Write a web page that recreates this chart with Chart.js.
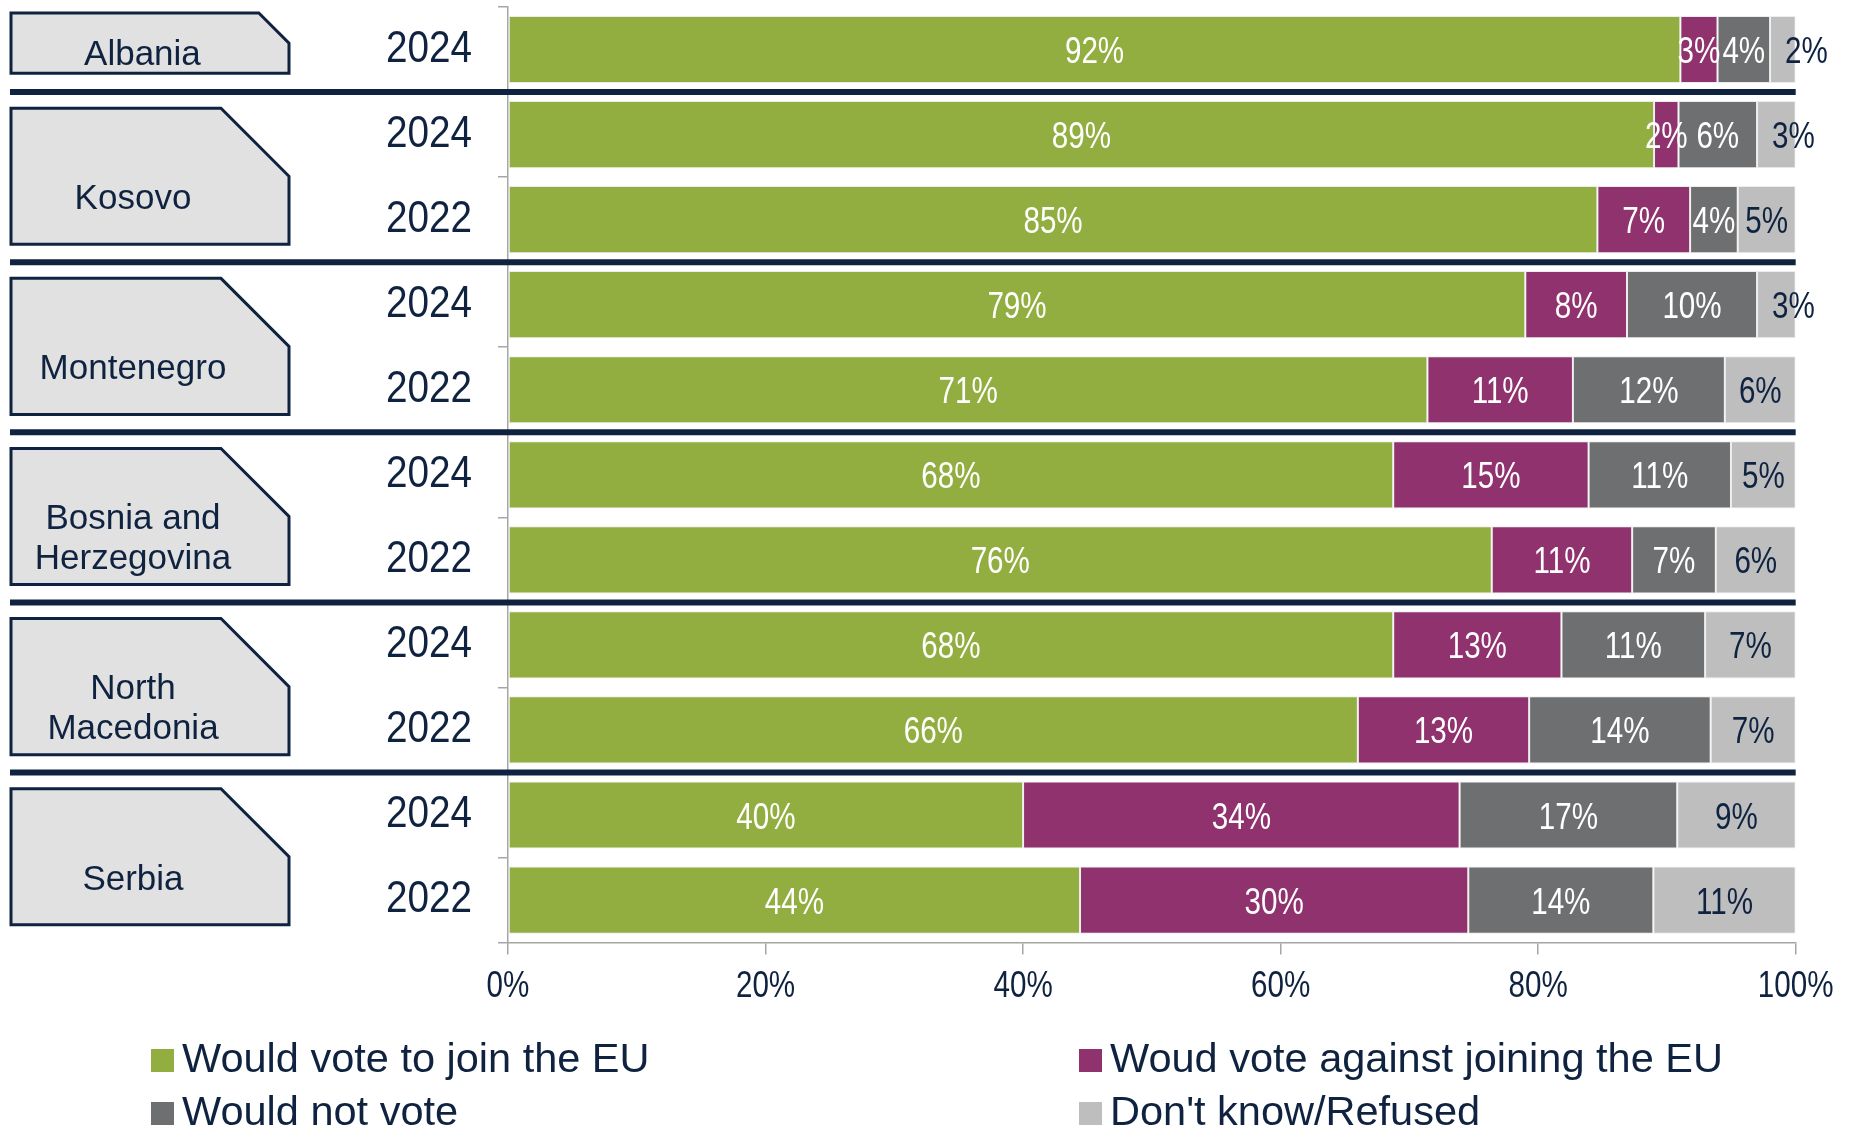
<!DOCTYPE html>
<html>
<head>
<meta charset="utf-8">
<script src="https://cdn.jsdelivr.net/npm/chart.js@4.4.1/dist/chart.umd.min.js"></script>
<style>
  html, body { margin: 0; padding: 0; background: #ffffff; }
  #wrap { width: 1853px; height: 1132px; position: relative; }
</style>
</head>
<body>
<div id="wrap"><canvas id="c"></canvas></div>
<script>
// ---- Data ----
const countries = ['Albania', 'Kosovo', 'Montenegro', 'Bosnia and\nHerzegovina', 'North\nMacedonia', 'Serbia'];
const yearsPerCountry = [['2024'], ['2024', '2022'], ['2024', '2022'], ['2024', '2022'], ['2024', '2022'], ['2024', '2022']];
const seriesNames = ['Would vote to join the EU', 'Woud vote against joining the EU', 'Would not vote', "Don't know/Refused"];
const joinEU    = [91.5, 89.0, 84.6, 79.0, 71.4, 68.4, 76.4, 68.4, 66.0, 40.0, 44.2];
const againstEU = [ 2.9,  1.9,  7.2,  7.9, 11.3, 15.1, 10.9, 13.0, 13.3, 33.9, 30.0];
const notVote   = [ 4.1,  6.1,  3.7, 10.1, 11.8, 11.0,  6.5, 11.1, 14.1, 16.9, 14.3];
const dontKnow  = [ 2.0,  3.0,  4.5,  3.0,  5.5,  5.0,  6.2,  7.0,  6.6,  9.2, 11.0];
const xTickValues = [0, 20, 40, 60, 80, 100];

// ---- Styling ----
const NAVY = '#0F2341';
const colors = ['#92AE40', '#8F326E', '#6E6F71', '#BEBEBE'];
const FONT = "'Liberation Sans', Arial, sans-serif";

const years = yearsPerCountry.flat();
const allSeries = [joinEU, againstEU, notVote, dontKnow];
const totals = years.map((_, i) => allSeries.reduce((s, arr) => s + arr[i], 0));
const shares = allSeries.map(arr => arr.map((v, i) => v / totals[i] * 100));

const groupStarts = [];
{ let idx = 0; yearsPerCountry.forEach(g => { groupStarts.push(idx); idx += g.length; }); }

function boundaryPixel(yScale, i) {
  const n = years.length;
  if (i <= 0) return yScale.top;
  if (i >= n) return yScale.bottom;
  return (yScale.getPixelForValue(i - 1) + yScale.getPixelForValue(i)) / 2;
}

// draw text narrowed horizontally around its anchor point (emulates the condensed face)
function withNarrowText(ctx, sx, fn) {
  const orig = ctx.fillText;
  ctx.fillText = function (t, x, y, mw) {
    this.save();
    this.translate(x, y);
    this.scale(sx, 1);
    orig.call(this, t, 0, 0);
    this.restore();
  };
  try { fn(); } finally { ctx.fillText = orig; }
}
function narrowLabels(sx) {
  return function (scale) {
    if (scale._narrowed) return;
    scale._narrowed = true;
    const origDraw = scale.drawLabels;
    scale.drawLabels = function (area) {
      withNarrowText(this.ctx, sx, () => origDraw.call(this, area));
    };
  };
}

const barLabels = {
  id: 'barLabels',
  afterDatasetsDraw(chart) {
    const ctx = chart.ctx;
    const SX = 0.8;
    ctx.save();
    ctx.font = '37px ' + FONT;
    ctx.textAlign = 'center';
    ctx.textBaseline = 'alphabetic';
    chart.data.datasets.forEach((ds, k) => {
      const meta = chart.getDatasetMeta(k);
      meta.data.forEach((el, i) => {
        const p = el.getProps(['x', 'base', 'y'], true);
        const start = Math.min(p.x, p.base), end = Math.max(p.x, p.base);
        const txt = Math.round(allSeries[k][i]) + '%';
        const w = ctx.measureText(txt).width * SX;
        let cx = (start + end) / 2;
        if (k === 3 && w > end - start) cx = start + w / 2 + 15;
        ctx.fillStyle = k === 3 ? NAVY : '#FFFFFF';
        withNarrowText(ctx, SX, () => ctx.fillText(txt, cx, p.y + 13.5));
      });
    });
    ctx.restore();
  }
};

const decorations = {
  id: 'decorations',
  afterDraw(chart) {
    const ctx = chart.ctx;
    const ys = chart.scales.y;
    const area = chart.chartArea;
    ctx.save();
    // separators between countries
    ctx.strokeStyle = NAVY;
    ctx.lineWidth = 6;
    groupStarts.slice(1).forEach(gs => {
      const y = boundaryPixel(ys, gs);
      ctx.beginPath();
      ctx.moveTo(10, y);
      ctx.lineTo(area.right, y);
      ctx.stroke();
    });
    // country boxes
    const pitch = ys.getPixelForValue(1) - ys.getPixelForValue(0);
    countries.forEach((name, g) => {
      const n = yearsPerCountry[g].length;
      const top = boundaryPixel(ys, groupStarts[g]);
      const bottom = boundaryPixel(ys, groupStarts[g] + n);
      const y0 = top + (n > 1 ? 0.19 : 0.07) * pitch;
      const y1 = bottom - (n > 1 ? 0.21 : 0.22) * pitch;
      const x0 = 11, x1 = 289;
      const c = 0.5 * (y1 - y0);
      ctx.beginPath();
      ctx.moveTo(x0, y0);
      ctx.lineTo(x1 - c, y0);
      ctx.lineTo(x1, y0 + c);
      ctx.lineTo(x1, y1);
      ctx.lineTo(x0, y1);
      ctx.closePath();
      ctx.fillStyle = '#E1E1E1';
      ctx.fill();
      ctx.lineWidth = 3;
      ctx.strokeStyle = NAVY;
      ctx.stroke();
      const lines = name.split('\n');
      ctx.font = '35px ' + FONT;
      ctx.fillStyle = NAVY;
      ctx.textAlign = 'center';
      ctx.textBaseline = 'alphabetic';
      const cx = x0 + (x1 - x0 - c / 2) / 2;
      const cy = y0 + 0.65 * (y1 - y0);
      const lh = 40;
      lines.forEach((ln, j) => {
        const ly = cy + (j - (lines.length - 1) / 2) * lh;
        ctx.fillText(ln, cx, ly + 12.5);
      });
    });
    // legend (2 x 2 grid)
    const colX = [151, 1079];
    const rowBase = [1072, 1125];
    ctx.font = '41.5px ' + FONT;
    ctx.textAlign = 'left';
    ctx.textBaseline = 'alphabetic';
    chart.data.datasets.forEach((ds, k) => {
      const bx = colX[k % 2], by = rowBase[Math.floor(k / 2)];
      ctx.fillStyle = ds.backgroundColor;
      ctx.fillRect(bx, by - 23, 23, 23);
      ctx.fillStyle = NAVY;
      ctx.fillText(ds.label, bx + 31, by);
    });
    ctx.restore();
  }
};

new Chart(document.getElementById('c'), {
  type: 'bar',
  data: {
    labels: years,
    datasets: seriesNames.map((name, k) => ({
      label: name,
      data: shares[k],
      backgroundColor: colors[k],
      borderColor: 'rgba(235,235,235,0.9)',
      borderWidth: 1,
      borderSkipped: false,
      barPercentage: 0.79,
      categoryPercentage: 1.0
    }))
  },
  options: {
    indexAxis: 'y',
    responsive: true,
    maintainAspectRatio: false,
    animation: false,
    devicePixelRatio: 1,
    layout: { padding: { top: 7, right: 48, bottom: 113, left: 0 } },
    plugins: { legend: { display: false }, tooltip: { enabled: false } },
    scales: {
      x: {
        stacked: true,
        min: 0,
        max: 100,
        afterBuildTicks(scale) { scale.ticks = xTickValues.map(v => ({ value: v })); },
        afterFit: narrowLabels(0.8),
        ticks: {
          callback: v => v + '%',
          font: { family: FONT, size: 37 },
          color: NAVY,
          padding: 10,
          maxRotation: 0
        },
        grid: { drawOnChartArea: false, drawTicks: true, tickLength: 12, color: '#A6A6A6', lineWidth: 1.5 },
        border: { color: '#A6A6A6', width: 1.5 }
      },
      y: {
        stacked: true,
        afterFit(scale) {
          scale.width = 508;
          scale.paddingTop = 0;
          scale.paddingBottom = 0;
          narrowLabels(0.86)(scale);
        },
        ticks: {
          font: { family: FONT, size: 45 },
          color: NAVY,
          padding: 26
        },
        grid: { drawOnChartArea: false, drawTicks: true, tickLength: 10, color: '#A6A6A6', lineWidth: 1.5, offset: true },
        border: { color: '#A6A6A6', width: 1.5 }
      }
    }
  },
  plugins: [barLabels, decorations]
});
</script>
</body>
</html>
